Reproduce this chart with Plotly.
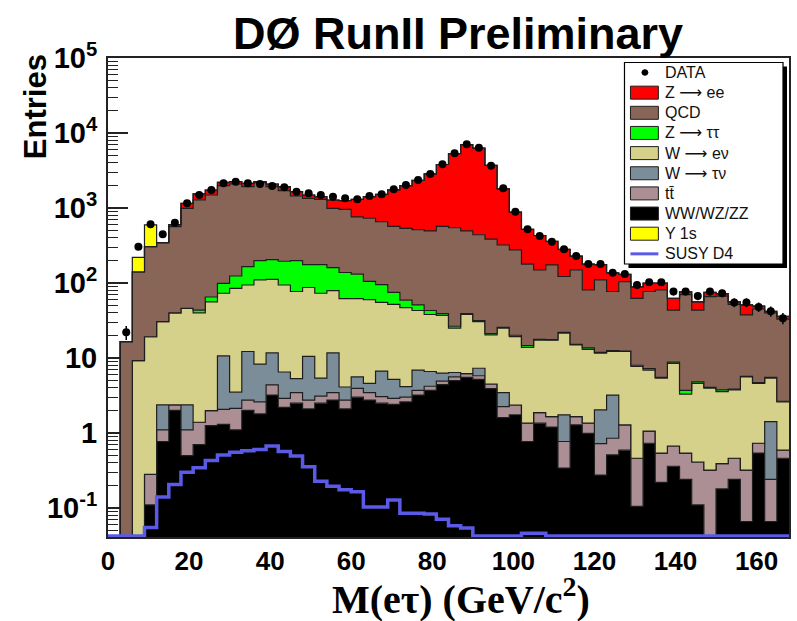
import numpy as np
import plotly.graph_objects as go

# ---- binning: 3 GeV bins from 0 to 168 GeV/c^2 ----
bin_edges = np.arange(0, 169, 3)
bin_centers = bin_edges[:-1] + 1.5

# ---- observed events per bin ----
data_counts = [0, 22, 305, 607, 447, 638, 1154, 1490, 1738, 2133,
               2245, 2133, 2090, 1963, 1888, 1652, 1570, 1490, 1416, 1345,
               1306, 1445, 1520, 1774, 2028, 2362, 2839, 3820, 5355, 7060,
               6370, 3665, 1833, 893, 520, 424, 356, 281, 229, 179,
               179, 137, 132, 94, 102, 102, 77, 77, 67, 77,
               73, 55, 55, 48, 42, 34]

# ---- background predictions per bin (stacked bottom -> top) ----
ww_wz_zz = [0, 0, 0, 0.11, 0.77, 2.0, 0.5, 0.7, 1.25, 1.3,
            1.1, 2.0, 1.8, 3.2, 2.2, 2.5, 2.1, 2.5, 2.75, 2.1,
            3.0, 2.75, 2.5, 2.4, 2.6, 3.2, 3.7, 4.4, 5.0, 5.5,
            5.2, 3.9, 1.6, 1.75, 0.77, 1.35, 1.2, 0.34, 1.28, 0.99,
            0.275, 0.51, 0.59, 0.105, 0.73, 0.22, 0.36, 0.24, 0.11, 0.0,
            0.18, 0.24, 0.066, 0.54, 0.066, 0.46]
ttbar = [0, 0, 0, 0.17, 0.33, 0.37, 0.6, 0.69, 0.74, 0.77,
         1.03, 0.75, 0.8, 1.17, 0.7, 0.95, 0.65, 0.6, 0.7, 0.65,
         0.94, 0.7, 0.55, 0.5, 0.4, 0.5, 0.5, 0.5, 0.6, 0.7,
         0.6, 0.6, 0.64, 0.61, 0.58, 0.52, 0.45, 0.43, 0.37, 0.36,
         0.445, 0.34, 0.69, 0.355, 0.33, 0.32, 0.31, 0.3, 0.3, 0.32,
         0.21, 0.22, 0.254, 0.19, 0.174, 0.13]
w_taunu = [0, 0, 0, 0, 1.27, 0, 1.27, 0, 0, 8.63,
           1.37, 9.45, 5.7, 7.33, 3.6, 1.85, 7.75, 2.3, 8.25, 1.35,
           1.66, 1.15, 3.65, 2.3, 1.15, 3.2, 2.4, 1.4, 0.8, 0,
           1.5, 0, 1.21, 0, 0, 0, 0, 0.97, 0, 0,
           1.31, 2.35, 0, 0, 0, 0, 0, 0, 0, 0,
           0, 0, 0, 0, 1.18, 0]
w_enu = [0, 0, 9.2, 18.9, 28.1, 37.6, 43.6, 38.6, 54.0, 62.3,
         81.5, 81.8, 101.7, 100.3, 87.5, 71.7, 76.5, 67.6, 67.3, 57.9,
         56.4, 55.4, 48.3, 46.8, 42.85, 36.1, 31.4, 30.7, 18.6, 31.8,
         23.2, 15.8, 21.55, 16.94, 12.45, 15.43, 15.65, 19.76, 13.25, 11.65,
         9.57, 9.0, 10.92, 7.24, 5.84, 4.86, 7.83, 2.76, 4.19, 3.63,
         3.17, 3.29, 5.28, 3.87, 3.98, 2.01]
z_tautau = [0, 0, 0, 0, 0, 0, 0, 3.5, 9, 26,
            39, 71, 89, 93, 101, 122, 89, 103, 81, 76,
            69, 45, 40, 23, 12, 8, 5, 2, 1.5, 1,
            1, 0.9, 0.6, 0.8, 0.8, 0.4, 0.3, 0.4, 0.3, 0.6,
            0.3, 0.3, 0.2, 0.3, 0.3, 0.1, 0.3, 0.4, 0.2, 0.1,
            0.19, 0.1, 0.1, 0.1, 0.1, 0.05]
qcd = [0, 16.5, 131.8, 285.8, 314.5, 524, 945, 1235.5, 1425, 1886,
       1966, 1758, 1977, 1718, 1507, 1246, 1169, 1130, 831, 822,
       629, 625, 563, 495, 476, 464, 452, 531, 518.5, 456,
       408.5, 363.8, 295.4, 255.9, 164.4, 131.3, 156.4, 100.1, 133.8, 67.4,
       98.1, 64.5, 91.6, 54.5, 69.8, 75.5, 34.8, 66.3, 38.8, 61.75,
       63.25, 48.15, 31.8, 40.3, 34.5, 30.35]
z_ee = [0, 0, 0, 0, 0, 36, 163, 259, 248, 215,
        155, 210, 69, 167, 221, 207, 145, 110, 288, 290,
        540, 690, 862, 1170, 1455, 1815, 2355, 3230, 4755, 6505,
        5860, 3315, 1479, 604, 341, 281, 186, 158, 79, 97,
        66, 59, 26, 26.5, 23, 19, 19, 6, 12.4, 9.2,
        5, 4, 13.5, 4, 2, 3]
upsilon_1s = [0, 0, 79, 289] + [0] * 52

# ---- signal expectation ----
susy_d4 = [0, 0, 0, 0.055, 0.14, 0.205, 0.30, 0.345, 0.43, 0.51,
           0.555, 0.58, 0.6, 0.67, 0.565, 0.495, 0.355, 0.228, 0.195, 0.175,
           0.165, 0.103, 0.103, 0.128, 0.085, 0.085, 0.083, 0.071, 0.058, 0.054,
           0, 0.042, 0.042, 0.042, 0.046, 0.046, 0, 0, 0, 0,
           0, 0, 0, 0, 0, 0, 0, 0, 0, 0,
           0, 0, 0, 0, 0, 0]

# y-axis decade labels
y_tick_vals = [0.1, 1, 10, 100, 1000, 10000, 100000]
y_tick_text = ["10<sup>-1</sup>", "1", "10", "10<sup>2</sup>",
               "10<sup>3</sup>", "10<sup>4</sup>", "10<sup>5</sup>"]

ARROW = "<span style=\"font-family:'DejaVu Sans'\">\u27f6</span>"

# stacking order (bottom first) with labels and fill colours
stack = [
    ("WW/WZ/ZZ", ww_wz_zz, "#000000"),
    ("tt\u0304", ttbar, "#ab8f94"),
    ("W " + ARROW + " \u03c4\u03bd", w_taunu, "#7b8d98"),
    ("W " + ARROW + " e\u03bd", w_enu, "#d5d08a"),
    ("Z " + ARROW + " \u03c4\u03c4", z_tautau, "#00ff00"),
    ("QCD", qcd, "#896558"),
    ("Z " + ARROW + " ee", z_ee, "#ff0000"),
    ("\u03a5 1s", upsilon_1s, "#ffff00"),
]

Y_LOG_MIN, Y_LOG_MAX = -1.387, 5.0
FLOOR = 1e-3            # stand-in for empty bins on the log scale
OUTLINE = "#1e1e1e"
SUSY_COLOR = "#5a5ae6"

fig = go.Figure()

# invisible baseline the first stacked layer fills down to
fig.add_trace(go.Scatter(x=bin_edges, y=np.full(len(bin_edges), FLOOR),
                         mode="lines", line=dict(width=0, shape="hv"),
                         hoverinfo="skip", showlegend=False))

cum = np.zeros(len(bin_centers))
for name, vals, color in stack:
    cum = cum + np.asarray(vals, dtype=float)
    top = np.maximum(cum, FLOOR)
    fig.add_trace(go.Scatter(
        x=bin_edges, y=np.append(top, top[-1]), name=name,
        mode="lines", line=dict(color=OUTLINE, width=1.2, shape="hv"),
        fill="tonexty", fillcolor=color, showlegend=False))

# SUSY D4 step line (empty bins drawn along the lower edge)
susy_floor = 10 ** (Y_LOG_MIN + 0.012)
susy = np.maximum(np.asarray(susy_d4, dtype=float), susy_floor)
fig.add_trace(go.Scatter(x=bin_edges, y=np.append(susy, susy[-1]),
                         name="SUSY D4", mode="lines",
                         line=dict(color=SUSY_COLOR, width=3.5, shape="hv"),
                         showlegend=False))

# data points with Poisson errors
dc = np.asarray(data_counts, dtype=float)
mask = dc > 0
fig.add_trace(go.Scatter(x=bin_centers[mask], y=dc[mask], name="DATA",
                         mode="markers",
                         marker=dict(color="black", size=8, symbol="circle"),
                         error_y=dict(type="data", array=np.sqrt(dc[mask]),
                                      color="black", thickness=1.5, width=0),
                         showlegend=False))

# ---- geometry helpers (plot area in pixels) ----
L, R, T, B = 108, 791, 58, 537
W, H = 797, 621


def px(x, y):
    return (x - L) / (R - L), (B - y) / (B - T)


shapes = []
annotations = []

# legend box with drop shadow
lx0, lx1, ly0, ly1 = 626, 785, 62.5, 264
for (dx, fill, lw) in [(4, "black", 0), (0, "white", 1.2)]:
    a = px(lx0 + dx, ly0 + dx)
    b = px(lx1 + dx, ly1 + dx)
    shapes.append(dict(type="rect", xref="paper", yref="paper",
                       x0=a[0], y0=b[1], x1=b[0], y1=a[1],
                       fillcolor=fill, line=dict(color="black", width=lw),
                       layer="above"))

legend_rows = [("DATA", "marker", "black")] + \
    [(n, "box", c) for n, _, c in [stack[6], stack[5], stack[4], stack[3],
                                    stack[2], stack[1], stack[0], stack[7]]] + \
    [("SUSY D4", "line", SUSY_COLOR)]

row_y0, row_dy = 72.5, 20.15
for i, (label, kind, color) in enumerate(legend_rows):
    yc = row_y0 + i * row_dy
    if kind == "box":
        a = px(632, yc - 6.5)
        b = px(660, yc + 6.5)
        shapes.append(dict(type="rect", xref="paper", yref="paper",
                           x0=a[0], y0=b[1], x1=b[0], y1=a[1],
                           fillcolor=color, line=dict(color=OUTLINE, width=1),
                           layer="above"))
    elif kind == "line":
        a = px(632, yc)
        b = px(660, yc)
        shapes.append(dict(type="line", xref="paper", yref="paper",
                           x0=a[0], y0=a[1], x1=b[0], y1=b[1],
                           line=dict(color=color, width=3), layer="above"))
    else:
        a = px(643.5, yc - 2.8)
        b = px(649.5, yc + 2.8)
        shapes.append(dict(type="circle", xref="paper", yref="paper",
                           x0=a[0], y0=b[1], x1=b[0], y1=a[1],
                           fillcolor="black", line=dict(color="black", width=1),
                           layer="above"))
    tx, ty = px(665, yc)
    annotations.append(dict(xref="paper", yref="paper", x=tx, y=ty,
                            text=label, showarrow=False, xanchor="left",
                            yanchor="middle",
                            font=dict(family="Liberation Sans", size=16,
                                      color="#111111")))

# titles
tx, ty = px(459, 34)
annotations.append(dict(xref="paper", yref="paper", x=tx, y=ty,
                        text="DØ RunII Preliminary", showarrow=False,
                        xanchor="center", yanchor="middle",
                        font=dict(family="Liberation Sans", size=45,
                                  color="black", weight="bold")))
tx, ty = px(36, 107)
annotations.append(dict(xref="paper", yref="paper", x=tx, y=ty,
                        text="Entries", showarrow=False, textangle=-90,
                        xanchor="center", yanchor="middle",
                        font=dict(family="Liberation Sans", size=31,
                                  color="black", weight="bold")))
tx, ty = px(462, 596)
annotations.append(dict(xref="paper", yref="paper", x=tx, y=ty,
                        text="M(e\u03c4) (GeV/c<sup>2</sup>)", showarrow=False,
                        xanchor="center", yanchor="middle",
                        font=dict(family="Liberation Serif", size=40,
                                  color="black", weight="bold")))

fig.update_layout(
    width=W, height=H,
    margin=dict(l=L, r=W - R, t=T, b=H - B, pad=0),
    paper_bgcolor="white", plot_bgcolor="white",
    showlegend=False, shapes=shapes, annotations=annotations,
)
fig.update_xaxes(range=[0, 168], tickmode="array",
                 tickvals=list(range(0, 161, 20)), ticks="",
                 showgrid=False, zeroline=False, showline=True,
                 linecolor="#222222", linewidth=2, mirror=True,
                 layer="below traces",
                 tickfont=dict(family="Liberation Sans", size=26,
                               color="black", weight="bold"))
fig.update_yaxes(type="log", range=[Y_LOG_MIN, Y_LOG_MAX],
                 tickmode="array", tickvals=y_tick_vals, ticktext=y_tick_text,
                 ticks="inside", ticklen=20,
                 tickwidth=1.5, tickcolor="#222222",
                 minor=dict(ticks="inside", ticklen=10, tickwidth=1,
                            tickcolor="#222222", dtick="D1", showgrid=False),
                 showgrid=False, zeroline=False, showline=True,
                 linecolor="#222222", linewidth=2, mirror=True,
                 layer="below traces", ticklabelstandoff=3,
                 tickfont=dict(family="Liberation Sans", size=29,
                               color="black", weight="bold"))

fig.write_html("out.html")
